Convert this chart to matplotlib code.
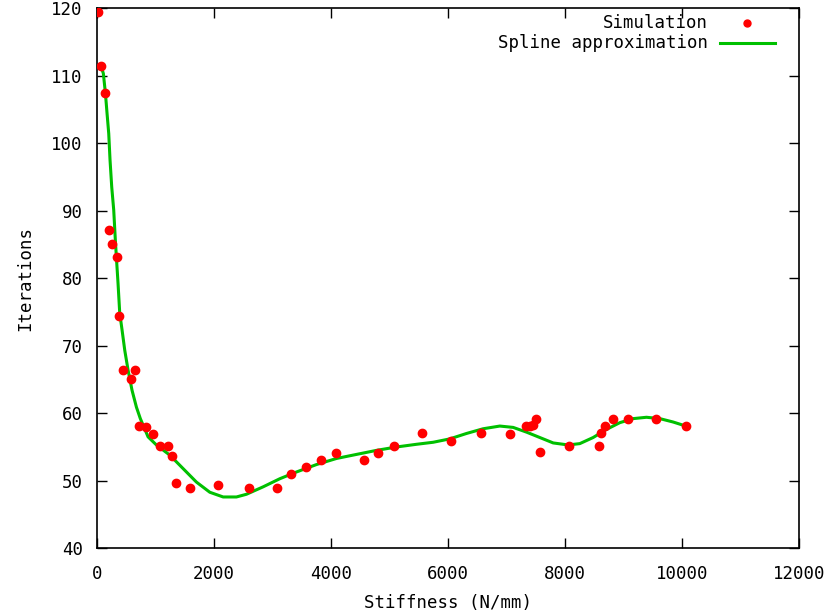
import matplotlib
matplotlib.use('Agg')
import matplotlib.pyplot as plt

# Simulation points (stiffness N/mm, iterations)
sim_x = [20, 70, 140, 210, 268, 347, 381, 450, 593, 661, 723, 837, 969,
         1077, 1213, 1282, 1350, 1589, 2080, 2598, 3088, 3316, 3572, 3840,
         4080, 4568, 4814, 5081, 5566, 6062, 6568, 7064, 7330, 7400, 7460,
         7502, 7576, 8067, 8580, 8614, 8682, 8824, 9070, 9549, 10066]
sim_y = [119.4, 111.4, 107.4, 87.1, 85.0, 83.1, 74.4, 66.4, 65.0, 66.4, 58.1,
         58.0, 56.9, 55.2, 55.2, 53.6, 49.6, 49.0, 49.3, 49.0, 49.0, 51.0,
         52.0, 53.1, 54.1, 53.1, 54.1, 55.2, 57.1, 55.9, 57.1, 56.9, 58.1,
         58.1, 58.3, 59.1, 54.2, 55.2, 55.2, 57.1, 58.1, 59.1, 59.1, 59.1, 58.1]

# Spline approximation
spl_x = [80, 113, 148, 176, 205, 227, 256, 290, 318, 340, 364, 393, 433, 479,
         535, 603, 678, 745, 877, 1020, 1248, 1476, 1704, 1932, 2160,
         2387, 2558, 2843, 3128, 3413, 3755, 4097, 4438, 4780, 5122, 5464,
         5749, 6033, 6318, 6603, 6888, 7116, 7344, 7572, 7800, 8057, 8255,
         8482, 8710, 8938, 9166, 9394, 9622, 9849, 10066]
spl_y = [111.2, 110.3, 107.4, 104.4, 101.4, 97.5, 93.5, 90.1, 85.6, 82.5,
         79.2, 74.8, 72.3, 69.3, 66.4, 63.4, 60.9, 59.2, 56.5, 55.3, 53.8,
         51.8, 49.8, 48.3, 47.6, 47.6, 48.0, 49.1, 50.3, 51.3, 52.4, 53.3,
         53.9, 54.5, 55.0, 55.4, 55.7, 56.2, 57.0, 57.7, 58.1, 57.9, 57.2,
         56.4, 55.6, 55.3, 55.5, 56.4, 57.6, 58.6, 59.2, 59.4, 59.2, 58.7, 58.1]

font = 'DejaVu Sans Mono'
fs = 12.5

fig = plt.figure(figsize=(8.34, 6.14), dpi=100)
ax = fig.add_axes([0.116, 0.107, 0.842, 0.880])

ax.plot(spl_x, spl_y, color='#00c000', lw=2.2, zorder=2)
ax.plot(sim_x, sim_y, 'o', color='#ff0000', ms=6, mec='#ff0000', zorder=3)

ax.set_xlim(0, 12000)
ax.set_ylim(40, 120)
ax.set_xticks(range(0, 12001, 2000))
ax.set_yticks(range(40, 121, 10))
ax.tick_params(direction='in', length=7, width=1, top=True, right=True,
               labelsize=fs)
ax.tick_params(axis='x', pad=12)
ax.tick_params(axis='y', pad=10)
for lab in ax.get_xticklabels() + ax.get_yticklabels():
    lab.set_family(font)
for s in ax.spines.values():
    s.set_linewidth(1.2)

ax.set_xlabel('Stiffness (N/mm)', family=font, fontsize=fs, labelpad=8)
ax.set_ylabel('Iterations', family=font, fontsize=fs, labelpad=12)

# gnuplot-style key: right-justified text, sample to the right
ax.text(0.870, 0.972, 'Simulation', transform=ax.transAxes, ha='right',
        va='center', family=font, fontsize=fs)
ax.plot([0.926], [0.972], 'o', color='#ff0000', ms=5, transform=ax.transAxes,
        clip_on=False)
ax.text(0.870, 0.935, 'Spline approximation', transform=ax.transAxes,
        ha='right', va='center', family=font, fontsize=fs)
ax.plot([0.887, 0.966], [0.935, 0.935], color='#00c000', lw=2.2,
        transform=ax.transAxes, clip_on=False)

fig.savefig('out.png', dpi=100)
